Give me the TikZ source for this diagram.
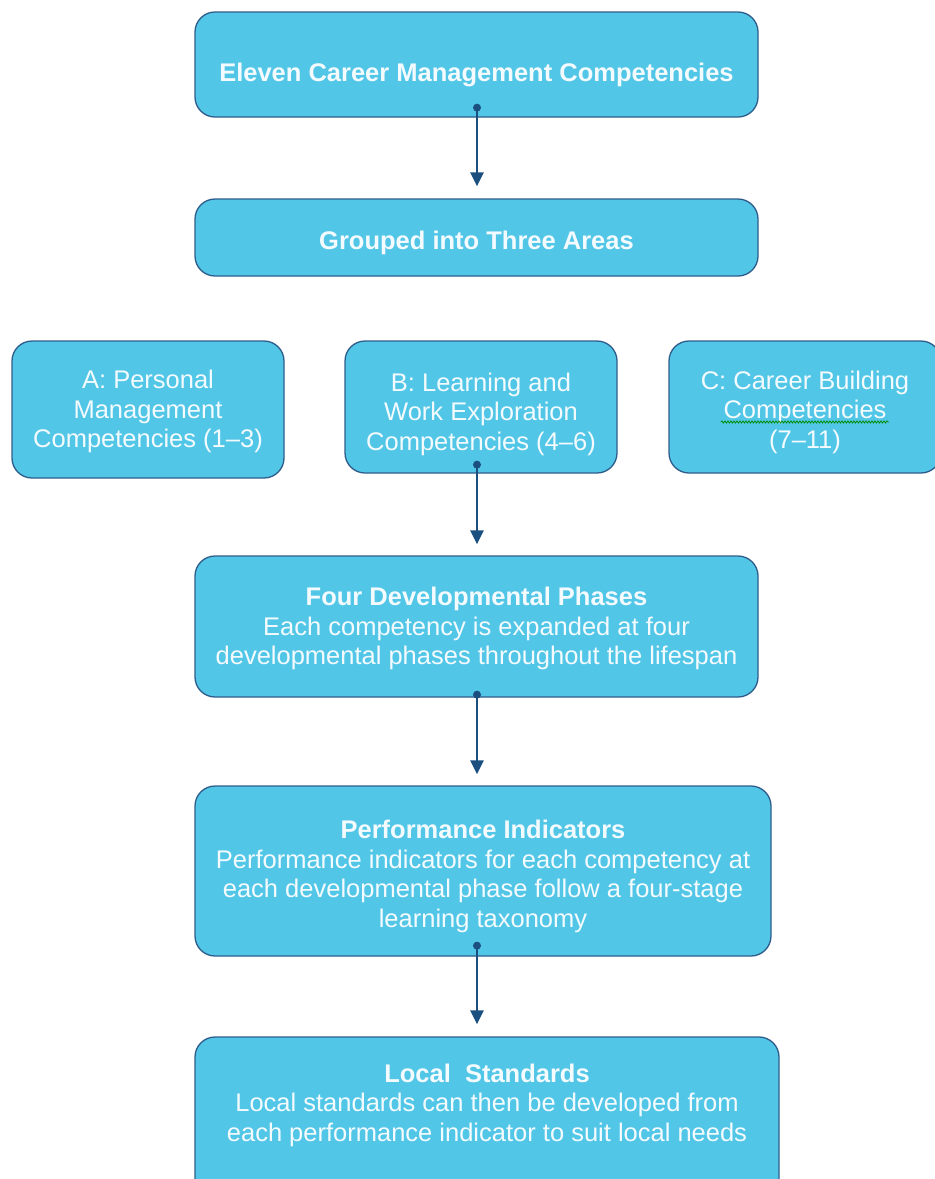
\documentclass[tikz,border=0pt]{standalone}
\usepackage{fontspec}
\setmainfont{Liberation Sans}
\usetikzlibrary{arrows.meta,calc,decorations.pathmorphing}
\definecolor{boxfill}{HTML}{52C6E7}
\definecolor{boxline}{HTML}{2E5D8C}
\definecolor{arrcol}{HTML}{1B4F80}
\definecolor{txtcol}{HTML}{F4FBFE}
\newcommand{\shiftd}[2]{\raisebox{#1}[\height][\depth]{#2}}
\newcommand{\lines}[1]{\begin{tabular}{@{}c@{}}#1\end{tabular}}
\tikzset{
  box/.style={draw=boxline, line width=1.3pt, fill=boxfill, rounded corners=20pt,
    text=txtcol, align=center, inner sep=0pt,
    font=\fontsize{25.5pt}{29.5pt}\selectfont},
  conn/.style={draw=arrcol, line width=2.8pt, -{Triangle[width=13pt,length=14pt]}},
  dotst/.style={fill=arrcol, circle, inner sep=0pt, minimum size=8pt}
}
\begin{document}
\begin{tikzpicture}[x=1pt,y=-1pt]
\useasboundingbox (0,0) rectangle (935,1179);
\coordinate (ax) at (477,0);
\node[box, minimum width=563pt, minimum height=105pt] (top) at (476.5,64.5)
  {\shiftd{-10pt}{\textbf{Eleven Career Management Competencies}}};
\node[box, minimum width=563pt, minimum height=77pt] (grp) at (476.5,237.5)
  {\shiftd{-5pt}{\textbf{Grouped into Three Areas}}};
\node[box, minimum width=272pt, minimum height=137pt] (A) at (148,409.5)
  {\shiftd{-3pt}{\lines{A: Personal\\Management\\Competencies (1--3)}}};
\node[box, minimum width=272pt, minimum height=132pt] (B) at (481,407)
  {\shiftd{-8pt}{\lines{B: Learning and\\Work Exploration\\Competencies (4--6)}}};
\node[box, minimum width=272pt, minimum height=132pt] (C) at (805,407)
  {\shiftd{-6pt}{\lines{C: Career Building\\Competencies\\(7--11)}}};
\node[box, minimum width=563pt, minimum height=141pt] (four) at (476.5,626.5)
  {\shiftd{-3pt}{\lines{\textbf{Four Developmental Phases}\\Each competency is expanded at four\\developmental phases throughout the lifespan}}};
\node[box, minimum width=576pt, minimum height=170pt] (perf) at (483,871)
  {\shiftd{-6pt}{\lines{\textbf{Performance Indicators}\\Performance indicators for each competency at\\each developmental phase follow a four-stage\\learning taxonomy}}};
\node[box, minimum width=584pt, minimum height=170pt] (loc) at (487,1122)
  {\shiftd{16pt}{\lines{\textbf{Local\ \ Standards}\\Local standards can then be developed from\\each performance indicator to suit local needs}}};
% spell-check underline
\draw[green!55!black, line width=0.8pt, decorate,
  decoration={snake, amplitude=1pt, segment length=3pt}]
  ($(C.center)+(-84,15)$) -- ($(C.center)+(84,15)$);
% connectors
\draw[conn] ($(top.south -| ax)+(0,-10)$) node[dotst] (d1) {} -- ($(grp.north -| ax)+(0,-12)$);
\draw[conn] ($(B.south -| ax)+(0,-9)$) node[dotst] (d2) {} -- ($(four.north -| ax)+(0,-11)$);
\draw[conn] ($(four.south -| ax)+(0,-3)$) node[dotst] (d3) {} -- ($(perf.north -| ax)+(0,-11)$);
\draw[conn] ($(perf.south -| ax)+(0,-11)$) node[dotst] (d4) {} -- ($(loc.north -| ax)+(0,-12)$);
\end{tikzpicture}
\end{document}
